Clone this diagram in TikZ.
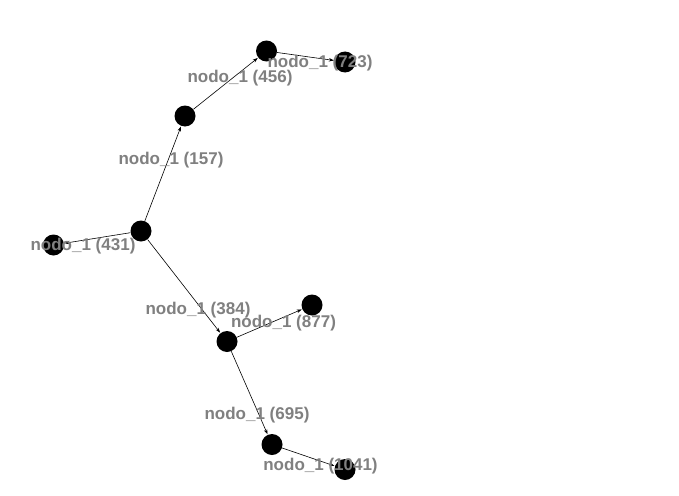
\documentclass[tikz,border=0pt]{standalone}
\usepackage{fontspec}
\setmainfont{Liberation Sans}
\usetikzlibrary{arrows.meta}
\definecolor{labgray}{HTML}{808080}
\pgfdeclarelayer{edges}
\pgfsetlayers{edges,main}
\begin{document}
\begin{tikzpicture}[x=1pt,y=-1pt,
  vert/.style={circle,fill=black,draw=none,minimum size=21pt,inner sep=0pt},
  lab/.style={text=labgray,font=\fontsize{17}{20}\selectfont\bfseries,inner sep=0pt},
  edge/.style={draw=black,line width=0.6pt,-{Stealth[length=5pt,width=3.5pt]},shorten >=0.5pt}]
\begin{pgfonlayer}{edges}
\fill[white] (0,0) rectangle (679,495);
\end{pgfonlayer}
\useasboundingbox (0,0) rectangle (679,495);
\node[vert] (A) at (141,231) {};
\node[vert] (B) at (185,116) {};
\node[vert] (C) at (266.5,51) {};
\node[vert] (D) at (345,62) {};
\node[vert] (E) at (53.5,245) {};
\node[vert] (F) at (227,341.5) {};
\node[vert] (G) at (312,305) {};
\node[vert] (H) at (272,444.5) {};
\node[vert] (I) at (345,469.5) {};
\begin{pgfonlayer}{edges}
\draw[edge] (A) -- (B);
\draw[edge] (B) -- (C);
\draw[edge] (C) -- (D);
\draw[edge] (A) -- (E);
\draw[edge] (A) -- (F);
\draw[edge] (F) -- (G);
\draw[edge] (F) -- (H);
\draw[edge] (H) -- (I);
\end{pgfonlayer}
\node[lab] (lC) at (240,78.5) {nodo\_1 (456)};
\node[lab] (lD) at (320,63.5) {nodo\_1 (723)};
\node[lab] (lB) at (171,160) {nodo\_1 (157)};
\node[lab] (lE) at (83,246.5) {nodo\_1 (431)};
\node[lab] (lF) at (198,310.5) {nodo\_1 (384)};
\node[lab] (lG) at (283.5,323) {nodo\_1 (877)};
\node[lab] (lH) at (257,415.5) {nodo\_1 (695)};
\node[lab] (lI) at (320.5,466.5) {nodo\_1 (1041)};
\end{tikzpicture}
\end{document}
